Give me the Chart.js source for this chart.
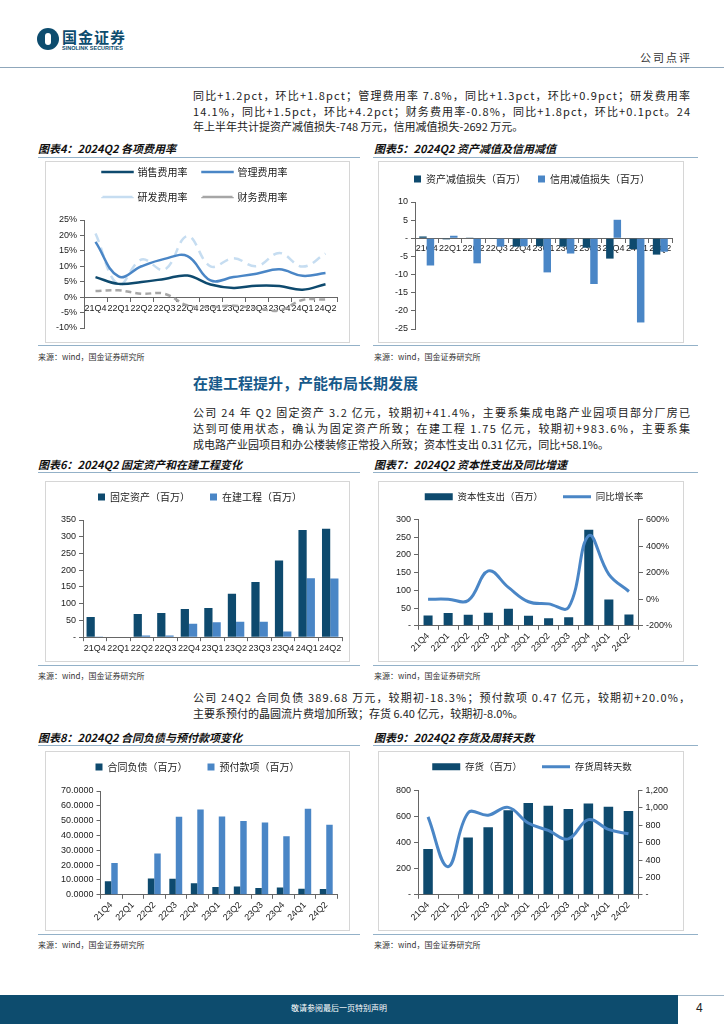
<!DOCTYPE html>
<html lang="zh-CN">
<head>
<meta charset="utf-8">
<title>国金证券 公司点评</title>
<script src="https://cdn.jsdelivr.net/npm/chart.js@4.4.1/dist/chart.umd.min.js"></script>
<style>
  html, body { margin: 0; padding: 0; background: #fff; }
  body { width: 724px; height: 1024px; position: relative; overflow: hidden;
         font-family: "Noto Sans CJK SC", "Noto Sans", sans-serif; color: #222; }
  .abs { position: absolute; }
  .para { position: absolute; left: 193px; width: 497px; font-size: 11px; line-height: 16px; color: #222; }
  .para div { white-space: nowrap; }
  .ttl { position: absolute; font-size: 11px; line-height: 14px; font-weight: bold; font-style: italic; color: #111; white-space: nowrap; }
  .rule { position: absolute; height: 0; border-top: 1.5px solid #93B1C8; }
  .src { position: absolute; font-size: 8px; line-height: 10px; color: #333; white-space: nowrap; }
  .frame { position: absolute; border: 1px solid #D6D6D6; box-sizing: border-box; }
  .chart { position: absolute; }
</style>
</head>
<body>

<!-- Cabecera -->
<div class="abs" style="left:37px;top:28px;width:22px;height:22px;border-radius:50%;background:#0D4C6E"></div>
<div class="abs" style="left:45px;top:33px;width:6px;height:12px;border-radius:3px;background:#fff"></div>
<div class="abs" style="left:62px;top:28px;font-size:15px;line-height:18px;font-weight:bold;color:#0D4C6E;letter-spacing:1px">国金证券</div>
<div class="abs" style="left:62px;top:45px;font-size:5.5px;line-height:6px;font-weight:bold;color:#0D4C6E;font-family:'Liberation Sans',sans-serif">SINOLINK SECURITIES</div>
<div class="abs" style="left:640px;top:50px;font-size:11px;line-height:14px;letter-spacing:2px;color:#333">公司点评</div>
<div class="abs" style="left:0;top:67px;width:724px;border-top:1px solid #8FA7BB"></div>

<div class="para" style="top:88px;line-height:15.5px">
  <div class="j"><span>同比+1.2pct，环比+1.8pct；管理费用率 7.8%，同比+1.3pct，环比+0.9pct；研发费用率</span></div>
  <div class="j"><span>14.1%，同比+1.5pct，环比+4.2pct；财务费用率-0.8%，同比+1.8pct，环比+0.1pct。24</span></div>
  <div>年上半年共计提资产减值损失-748 万元，信用减值损失-2692 万元。</div>
</div>

<!-- Fila 1 -->
<div class="ttl" style="left:38px;top:141px">图表4：2024Q2 各项费用率</div>
<div class="ttl" style="left:374px;top:141px">图表5：2024Q2 资产减值及信用减值</div>
<div class="rule" style="left:38px;top:157px;width:322px"></div>
<div class="rule" style="left:373px;top:157px;width:325px"></div>
<div class="frame" style="left:45px;top:161px;width:305px;height:182px"></div>
<div class="frame" style="left:378px;top:161px;width:306px;height:182px"></div>
<div class="chart" style="left:45px;top:161px;width:305px;height:182px"><canvas id="g4"></canvas></div>
<div class="chart" style="left:378px;top:161px;width:306px;height:182px"><canvas id="g5"></canvas></div>
<div class="rule" style="left:38px;top:345px;width:322px"></div>
<div class="rule" style="left:373px;top:345px;width:325px"></div>
<div class="src" style="left:38px;top:352px">来源：wind，国金证券研究所</div>
<div class="src" style="left:374px;top:352px">来源：wind，国金证券研究所</div>

<div class="abs" style="left:193px;top:373px;font-size:15px;line-height:20px;font-weight:bold;color:#17598A">在建工程提升，产能布局长期发展</div>

<div class="para" style="top:404px">
  <div class="j"><span>公司 24 年 Q2 固定资产 3.2 亿元，较期初+41.4%，主要系集成电路产业园项目部分厂房已</span></div>
  <div class="j"><span>达到可使用状态，确认为固定资产所致；在建工程 1.75 亿元，较期初+983.6%，主要系集</span></div>
  <div>成电路产业园项目和办公楼装修正常投入所致；资本性支出 0.31 亿元，同比+58.1%。</div>
</div>

<!-- Fila 2 -->
<div class="ttl" style="left:38px;top:457px">图表6：2024Q2 固定资产和在建工程变化</div>
<div class="ttl" style="left:374px;top:457px">图表7：2024Q2 资本性支出及同比增速</div>
<div class="rule" style="left:38px;top:472px;width:322px"></div>
<div class="rule" style="left:373px;top:472px;width:325px"></div>
<div class="frame" style="left:45px;top:481px;width:305px;height:181px"></div>
<div class="frame" style="left:378px;top:481px;width:306px;height:181px"></div>
<div class="chart" style="left:45px;top:481px;width:305px;height:181px"><canvas id="g6"></canvas></div>
<div class="chart" style="left:378px;top:481px;width:306px;height:181px"><canvas id="g7"></canvas></div>
<div class="rule" style="left:38px;top:665px;width:322px"></div>
<div class="rule" style="left:373px;top:665px;width:325px"></div>
<div class="src" style="left:38px;top:671px">来源：wind，国金证券研究所</div>
<div class="src" style="left:374px;top:671px">来源：wind，国金证券研究所</div>

<div class="para" style="top:689px">
  <div class="j"><span>公司 24Q2 合同负债 389.68 万元，较期初-18.3%；预付款项 0.47 亿元，较期初+20.0%，</span></div>
  <div>主要系预付的晶圆流片费增加所致；存货 6.40 亿元，较期初-8.0%。</div>
</div>

<!-- Fila 3 -->
<div class="ttl" style="left:38px;top:730px">图表8：2024Q2 合同负债与预付款项变化</div>
<div class="ttl" style="left:374px;top:730px">图表9：2024Q2 存货及周转天数</div>
<div class="rule" style="left:38px;top:745px;width:322px"></div>
<div class="rule" style="left:373px;top:745px;width:325px"></div>
<div class="frame" style="left:45px;top:751px;width:305px;height:180px"></div>
<div class="frame" style="left:378px;top:751px;width:306px;height:180px"></div>
<div class="chart" style="left:45px;top:751px;width:305px;height:180px"><canvas id="g8"></canvas></div>
<div class="chart" style="left:378px;top:751px;width:306px;height:180px"><canvas id="g9"></canvas></div>
<div class="rule" style="left:38px;top:934px;width:322px"></div>
<div class="rule" style="left:373px;top:934px;width:325px"></div>
<div class="src" style="left:38px;top:940px">来源：wind，国金证券研究所</div>
<div class="src" style="left:374px;top:940px">来源：wind，国金证券研究所</div>

<!-- Pie de página -->
<div class="abs" style="left:0;top:995px;width:678px;height:29px;background:#0D4C6E"></div>
<div class="abs" style="left:678px;top:995px;width:46px;border-top:1px solid #9FB6C8"></div>
<div class="abs" style="left:0;top:1003px;width:678px;text-align:center;font-size:8px;line-height:10px;color:#fff">敬请参阅最后一页特别声明</div>
<div class="abs" style="left:696px;top:1001px;font-size:12px;line-height:14px;color:#222;font-family:'Liberation Sans',sans-serif">4</div>

<script>
// Datos de los gráficos
const trimestres = ['21Q4', '22Q1', '22Q2', '22Q3', '22Q4', '23Q1', '23Q2', '23Q3', '23Q4', '24Q1', '24Q2'];

// Gráfico 4: tasas de gastos (%)
const tasaVentas = [6.5, 4.3, 4.9, 5.9, 7.0, 4.1, 3.0, 3.7, 3.6, 2.4, 4.2];
const tasaGestion = [17.9, 6.7, 10.0, 12.4, 13.3, 5.4, 6.5, 7.6, 9.0, 6.9, 7.8];
const tasaID = [20.6, 4.1, 12.2, 8.9, 19.8, 10.0, 12.6, 10.0, 14.3, 9.9, 14.1];
const tasaFinanciera = [2.0, 2.2, 1.1, 1.1, -2.7, -3.2, -2.8, -3.6, -4.3, -0.9, -0.8];

// Gráfico 5: deterioro (millones)
const deterioroActivos = [0.5, -0.3, 0.2, -0.2, -2.3, -2.2, -2.3, -2.6, -5.6, -3.0, -4.5];
const deterioroCredito = [-7.5, 0.7, -6.9, -2.3, -2.2, -9.4, -4.2, -12.6, 5.1, -23.2, -3.7];

// Gráfico 6: activos fijos y obras en curso (millones)
const activosFijos = [60, null, 69, 72, 84, 87, 130, 165, 229, 320, 324];
const obrasEnCurso = [2, null, 5, 5, 40, 45, 46, 46, 17, 176, 175];

// Gráfico 7: gasto de capital y crecimiento interanual
const gastoCapital = [29, 36, 31, 37, 48, 28, 21, 24, 271, 74, 32];
const crecimientoCapital = [0, 0, -10, 213, 89, -19, -35, -61, 478, 187, 58.1];

// Gráfico 8: pasivos contractuales y anticipos (millones)
const pasivosContrato = [9.2, null, 11.0, 10.8, 7.8, 5.3, 5.6, 4.5, 4.9, 4.1, 3.9];
const anticipos = [21.5, null, 27.8, 52.7, 57.6, 52.8, 49.8, 48.8, 39.4, 58.1, 47.2];

// Gráfico 9: inventario y días de rotación
const inventario = [352, null, 440, 518, 648, 705, 683, 659, 700, 675, 643];
const diasRotacion = [896, 324, 943, 916, 1006, 826, 741, 643, 865, 752, 702];

const AZUL_OSCURO = '#0E4A6E';
const AZUL = '#4A86C6';
const EJE = '#666666';
const FUENTE_TICKS = { family: "'Liberation Sans', Arial, sans-serif", size: 9 };
const FUENTE_LEYENDA = { family: "'Noto Sans CJK SC', sans-serif", size: 10 };
const FUENTE_LEYENDA_CHICA = { family: "'Noto Sans CJK SC', sans-serif", size: 9.5 };

Chart.defaults.animation = false;
Chart.defaults.color = '#222';
Chart.defaults.font.family = "'Noto Sans CJK SC', sans-serif";

// Justificar las líneas del texto repartiendo el espacio entre caracteres
document.querySelectorAll('.para .j span').forEach(span => {
    const ancho = span.getBoundingClientRect().width;
    const n = span.textContent.length;
    span.style.letterSpacing = ((497 - ancho) / (n - 1)) + 'px';
});

// Plugin para dejar espacio extra debajo de la leyenda
const espacioLeyenda = {
    id: 'espacioLeyenda',
    beforeLayout(chart, args, opts) {
        const leyenda = chart.legend;
        if (!leyenda || leyenda._extra !== undefined) return;
        leyenda._extra = opts.extra || 0;
        const fitOriginal = leyenda.fit;
        leyenda.fit = function () {
            fitOriginal.call(this);
            this.height += this._extra;
        };
    }
};

// Función para un eje con línea gris y marcas hacia fuera
function eje(extra) {
    const base = {
        border: { color: EJE, width: 1 },
        grid: { drawOnChartArea: false, tickLength: 4, color: EJE },
        ticks: { color: '#222', font: FUENTE_TICKS, padding: 2 }
    };
    if (extra.grid) Object.assign(base.grid, extra.grid);
    if (extra.ticks) Object.assign(base.ticks, extra.ticks);
    const resto = Object.assign({}, extra);
    delete resto.grid;
    delete resto.ticks;
    return Object.assign(base, resto);
}

// Eje de categorías con etiquetas horizontales
function ejeX(extra) {
    extra = extra || {};
    return eje({
        offset: true,
        position: extra.position || 'bottom',
        z: extra.z || 0,
        grid: { offset: true },
        ticks: Object.assign({ autoSkip: false, maxRotation: 0, minRotation: 0 }, extra.ticks || {})
    });
}

// Eje de categorías con etiquetas a 45 grados
function ejeXRotado() {
    return eje({
        offset: true,
        grid: { offset: true },
        ticks: { autoSkip: false, maxRotation: 45, minRotation: 45, padding: 1 }
    });
}

const guion = v => (v === 0 ? '-' : v);

// Gráfico 4: tasas de gastos
new Chart(document.getElementById('g4'), {
    type: 'line',
    data: {
        labels: trimestres,
        datasets: [
            { label: '销售费用率', data: tasaVentas, borderColor: AZUL_OSCURO, borderWidth: 2.5 },
            { label: '管理费用率', data: tasaGestion, borderColor: AZUL, borderWidth: 2.5 },
            { label: '研发费用率', data: tasaID, borderColor: '#C6DDF1', borderWidth: 2.5, borderDash: [9, 6] },
            { label: '财务费用率', data: tasaFinanciera, borderColor: '#A6A6A6', borderWidth: 2.5, borderDash: [6, 4] }
        ]
    },
    options: {
        responsive: true,
        maintainAspectRatio: false,
        layout: { padding: { top: -9, left: 8, right: 13, bottom: 15 } },
        elements: { point: { radius: 0 }, line: { tension: 0.4, fill: false } },
        plugins: {
            legend: { labels: { boxWidth: 30, boxHeight: 0.01, padding: 15, font: FUENTE_LEYENDA, color: '#222' } },
            tooltip: { enabled: false },
            espacioLeyenda: { extra: 8 }
        },
        scales: {
            x: ejeX({ position: { y: 0 }, ticks: { padding: 2 } }),
            y: eje({ min: -10, max: 25, ticks: { stepSize: 5, padding: 3, callback: v => v + '%' } })
        }
    },
    plugins: [espacioLeyenda]
});

// Gráfico 5: deterioro de activos y de crédito
new Chart(document.getElementById('g5'), {
    type: 'bar',
    data: {
        labels: trimestres,
        datasets: [
            { label: '资产减值损失（百万）', data: deterioroActivos, backgroundColor: AZUL_OSCURO },
            { label: '信用减值损失（百万）', data: deterioroCredito, backgroundColor: AZUL }
        ]
    },
    options: {
        responsive: true,
        maintainAspectRatio: false,
        layout: { padding: { top: 1, left: 14, right: 12, bottom: 14 } },
        datasets: { bar: { categoryPercentage: 0.64, barPercentage: 1 } },
        plugins: {
            legend: { labels: { boxWidth: 7, boxHeight: 7, padding: 12, font: FUENTE_LEYENDA, color: '#222' } },
            tooltip: { enabled: false },
            espacioLeyenda: { extra: 8 }
        },
        scales: {
            x: ejeX({ position: { y: 0 }, z: 1, ticks: { padding: 1 } }),
            y: eje({ min: -25, max: 10, ticks: { stepSize: 5, padding: 3, callback: guion } })
        }
    },
    plugins: [espacioLeyenda]
});

// Gráfico 6: activos fijos y obras en curso
new Chart(document.getElementById('g6'), {
    type: 'bar',
    data: {
        labels: trimestres,
        datasets: [
            { label: '固定资产（百万）', data: activosFijos, backgroundColor: AZUL_OSCURO },
            { label: '在建工程（百万）', data: obrasEnCurso, backgroundColor: AZUL }
        ]
    },
    options: {
        responsive: true,
        maintainAspectRatio: false,
        layout: { padding: { top: -9, left: 13, right: 8, bottom: 6 } },
        datasets: { bar: { categoryPercentage: 0.7, barPercentage: 1 } },
        plugins: {
            legend: { labels: { boxWidth: 7, boxHeight: 7, padding: 20, font: FUENTE_LEYENDA, color: '#222' } },
            tooltip: { enabled: false },
            espacioLeyenda: { extra: 8 }
        },
        scales: {
            x: ejeX(),
            y: eje({ min: 0, max: 350, ticks: { stepSize: 50, padding: 3, callback: guion } })
        }
    },
    plugins: [espacioLeyenda]
});

// Gráfico 7: gasto de capital y crecimiento
new Chart(document.getElementById('g7'), {
    type: 'bar',
    data: {
        labels: trimestres,
        datasets: [
            { type: 'bar', label: '资本性支出（百万）', data: gastoCapital, backgroundColor: AZUL_OSCURO,
              pointStyle: 'rect', yAxisID: 'y', order: 2, categoryPercentage: 0.5, barPercentage: 0.9 },
            { type: 'line', label: '同比增长率', data: crecimientoCapital, borderColor: AZUL, backgroundColor: AZUL,
              borderWidth: 3, pointRadius: 0, pointStyle: 'line', tension: 0.4, yAxisID: 'y1', order: 1 }
        ]
    },
    options: {
        responsive: true,
        maintainAspectRatio: false,
        layout: { padding: { top: -9, left: 15, right: 9, bottom: 7 } },
        plugins: {
            legend: {
                labels: {
                    usePointStyle: true, pointStyleWidth: 28, boxHeight: 7, padding: 20,
                    font: FUENTE_LEYENDA_CHICA, color: '#222',
                    sort: (a, b) => a.datasetIndex - b.datasetIndex
                }
            },
            tooltip: { enabled: false },
            espacioLeyenda: { extra: 8 }
        },
        scales: {
            x: ejeXRotado(),
            y: eje({ position: 'left', min: 0, max: 300, ticks: { stepSize: 50, padding: 3, callback: guion } }),
            y1: eje({ position: 'right', min: -200, max: 600, ticks: { stepSize: 100, padding: 3, callback: v => v + '%' } })
        }
    },
    plugins: [espacioLeyenda]
});

// Gráfico 8: pasivos contractuales y anticipos
new Chart(document.getElementById('g8'), {
    type: 'bar',
    data: {
        labels: trimestres,
        datasets: [
            { label: '合同负债（百万）', data: pasivosContrato, backgroundColor: AZUL_OSCURO },
            { label: '预付款项（百万）', data: anticipos, backgroundColor: AZUL }
        ]
    },
    options: {
        responsive: true,
        maintainAspectRatio: false,
        layout: { padding: { top: -9, left: 13, right: 13, bottom: 7 } },
        datasets: { bar: { categoryPercentage: 0.6, barPercentage: 1 } },
        plugins: {
            legend: { labels: { boxWidth: 7, boxHeight: 7, padding: 20, font: FUENTE_LEYENDA, color: '#222' } },
            tooltip: { enabled: false },
            espacioLeyenda: { extra: 9 }
        },
        scales: {
            x: ejeXRotado(),
            y: eje({ min: 0, max: 70, ticks: { stepSize: 10, padding: 3, callback: v => v.toFixed(4) } })
        }
    },
    plugins: [espacioLeyenda]
});

// Gráfico 9: inventario y días de rotación
new Chart(document.getElementById('g9'), {
    type: 'bar',
    data: {
        labels: trimestres,
        datasets: [
            { type: 'bar', label: '存货（百万）', data: inventario, backgroundColor: AZUL_OSCURO,
              pointStyle: 'rect', yAxisID: 'y', order: 2, categoryPercentage: 0.5, barPercentage: 0.95 },
            { type: 'line', label: '存货周转天数', data: diasRotacion, borderColor: AZUL, backgroundColor: AZUL,
              borderWidth: 3, pointRadius: 0, pointStyle: 'line', tension: 0.4, yAxisID: 'y1', order: 1 }
        ]
    },
    options: {
        responsive: true,
        maintainAspectRatio: false,
        layout: { padding: { top: -9, left: 15, right: 13, bottom: 7 } },
        plugins: {
            legend: {
                labels: {
                    usePointStyle: true, pointStyleWidth: 28, boxHeight: 7, padding: 20,
                    font: FUENTE_LEYENDA_CHICA, color: '#222',
                    sort: (a, b) => a.datasetIndex - b.datasetIndex
                }
            },
            tooltip: { enabled: false },
            espacioLeyenda: { extra: 9 }
        },
        scales: {
            x: ejeXRotado(),
            y: eje({ position: 'left', min: 0, max: 800, ticks: { stepSize: 100, padding: 3, callback: guion } }),
            y1: eje({ position: 'right', min: 0, max: 1200, ticks: { stepSize: 200, padding: 3,
                callback: v => (v === 0 ? '-' : v.toLocaleString('en-US')) } })
        }
    },
    plugins: [espacioLeyenda]
});
</script>
</body>
</html>
